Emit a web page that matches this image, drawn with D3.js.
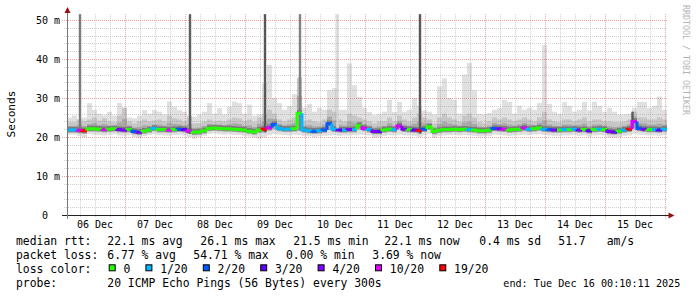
<!DOCTYPE html>
<html>
<head>
<meta charset="utf-8">
<script src="https://cdn.jsdelivr.net/npm/d3@7"></script>
<style>
  body { margin: 0; background: #fff; }
  text { font-family: "DejaVu Sans Mono", monospace; }
</style>
</head>
<body>
<div class="chart"></div>
<script>
// smokeping 10 天圖：每 2 小時一格，共 120 格
const median = [
  21.8, 21.8, 21.7, 21.6, 22.1, 22.1, 22.0, 21.9, 22.0, 22.1,
  21.9, 21.8, 21.9, 21.4, 21.2, 21.5, 21.8, 22.2, 21.9, 21.9,
  21.8, 21.9, 22.0, 21.9, 21.5, 21.2, 21.3, 21.6, 22.2, 22.3,
  22.2, 22.1, 22.1, 22.0, 21.9, 21.8, 21.5, 21.3, 21.8, 22.0,
  22.4, 23.2, 22.2, 22.0, 22.0, 22.1, 26.1, 21.8, 21.6, 21.5,
  21.6, 21.8, 23.4, 22.0, 21.8, 21.8, 21.9, 21.9, 22.9, 22.2,
  21.9, 21.4, 21.4, 21.8, 22.0, 21.9, 22.8, 22.0, 21.9, 21.8,
  21.7, 22.0, 22.6, 21.4, 21.7, 21.9, 21.9, 22.0, 21.9, 22.0,
  21.9, 21.8, 21.6, 21.6, 21.7, 22.2, 22.1, 22.0, 21.8, 21.9,
  22.0, 22.3, 22.0, 22.1, 22.3, 22.0, 21.9, 21.8, 21.8, 21.9,
  21.9, 22.0, 21.8, 21.9, 21.6, 21.9, 22.0, 21.9, 21.4, 21.3,
  21.5, 21.8, 22.0, 24.0, 22.2, 22.0, 21.9, 21.9, 21.8, 22.0
];
// 每格掉包數 (20 個 ping 中)
const loss = [
  1, 1, 10, 19, 0, 0, 0, 10, 0, 0,
  4, 4, 0, 2, 4, 0, 0, 1, 0, 0,
  10, 0, 2, 3, 10, 0, 0, 0, 0, 0,
  0, 0, 0, 0, 0, 0, 0, 0, 0, 19,
  10, 2, 1, 1, 1, 0, 0, 1, 1, 2,
  1, 2, 2, 1, 3, 1, 4, 1, 0, 10,
  1, 4, 3, 0, 0, 1, 10, 4, 0, 3,
  19, 2, 0, 0, 0, 0, 0, 0, 0, 0,
  1, 0, 0, 0, 0, 2, 4, 10, 0, 0,
  0, 10, 1, 0, 0, 1, 2, 4, 0, 1,
  0, 1, 4, 0, 3, 0, 1, 0, 4, 3,
  0, 1, 19, 10, 2, 4, 0, 1, 3, 1
];
// 煙霧：最大、偏高、偏低、最小 ping
const smokeMax = [
  25.0, 25.5, 24.5, 25.0, 28.7, 27.0, 26.0, 25.6, 26.5, 25.5,
  28.7, 27.5, 25.0, 24.8, 25.5, 26.9, 26.0, 26.9, 26.5, 25.8,
  29.1, 27.8, 26.9, 26.5, 25.5, 25.2, 25.8, 26.5, 28.7, 26.0,
  27.4, 25.8, 27.8, 29.1, 28.7, 26.0, 28.3, 25.5, 25.8, 33.8,
  38.5, 30.0, 28.7, 27.0, 28.0, 31.0, 35.4, 27.5, 28.5, 26.5,
  27.5, 27.0, 32.0, 32.5, 27.0, 27.0, 38.9, 33.3, 30.3, 27.5,
  26.4, 25.6, 26.0, 26.5, 29.5, 26.4, 29.0, 26.5, 27.0, 30.0,
  28.0, 26.8, 26.5, 25.8, 33.0, 35.0, 30.0, 29.5, 26.0, 36.0,
  39.0, 32.0, 26.0, 25.8, 26.2, 27.0, 27.5, 29.5, 29.0, 26.0,
  28.0, 27.0, 27.5, 27.0, 28.7, 43.6, 28.5, 26.5, 26.0, 28.9,
  28.0, 26.5, 27.0, 29.0, 26.8, 29.0, 28.0, 26.5, 27.5, 26.5,
  25.8, 25.8, 26.0, 27.5, 29.0, 29.0, 27.5, 28.0, 30.4, 27.0
];
const smokeHi = [
  23.8, 23.8, 24.5, 24.0, 24.5, 25.0, 24.2, 24.8, 24.0, 23.8,
  25.5, 27.5, 24.0, 23.5, 24.0, 24.5, 24.0, 24.2, 24.5, 24.0,
  25.5, 24.8, 24.5, 24.0, 25.0, 23.5, 23.5, 24.0, 24.5, 24.0,
  24.2, 24.0, 24.5, 25.0, 24.8, 24.0, 24.5, 23.8, 25.0, 26.0,
  27.0, 26.0, 24.5, 24.0, 24.5, 25.0, 35.0, 24.0, 24.5, 24.0,
  23.8, 24.5, 27.0, 26.5, 24.5, 24.0, 26.0, 25.5, 25.0, 24.5,
  24.0, 23.5, 24.0, 24.0, 25.0, 24.0, 25.5, 24.5, 24.0, 25.0,
  26.0, 25.0, 24.5, 23.5, 25.0, 26.0, 25.0, 24.5, 24.0, 25.5,
  26.0, 25.0, 23.8, 23.5, 24.0, 25.0, 24.5, 25.0, 24.5, 24.0,
  24.5, 25.0, 24.5, 24.0, 25.0, 26.5, 24.5, 24.0, 23.8, 24.5,
  24.5, 24.0, 24.5, 25.0, 24.0, 24.5, 24.5, 24.0, 24.0, 23.8,
  23.8, 24.0, 24.5, 26.5, 25.0, 25.0, 24.5, 24.5, 25.0, 24.5
];
const smokeLo = [
  21.1, 21.1, 21.0, 20.8, 21.4, 21.4, 21.3, 21.2, 21.3, 21.4,
  21.2, 21.1, 21.2, 20.7, 20.5, 20.8, 21.1, 21.5, 21.2, 21.2,
  21.1, 21.2, 21.3, 21.2, 20.8, 20.5, 20.6, 20.9, 21.5, 21.6,
  21.5, 21.4, 21.4, 21.3, 21.2, 21.1, 20.8, 20.6, 21.0, 21.2,
  21.6, 22.0, 21.5, 21.3, 21.3, 21.4, 21.6, 21.1, 20.9, 20.8,
  20.9, 21.1, 21.8, 21.3, 21.1, 21.1, 21.2, 21.2, 21.9, 21.5,
  21.2, 20.7, 20.7, 21.1, 21.3, 21.2, 21.9, 21.3, 21.2, 21.1,
  20.9, 21.3, 21.8, 20.7, 21.0, 21.2, 21.2, 21.3, 21.2, 21.3,
  21.2, 21.1, 20.9, 20.9, 21.0, 21.5, 21.4, 21.3, 21.1, 21.2,
  21.3, 21.5, 21.3, 21.4, 21.6, 21.3, 21.2, 21.1, 21.1, 21.2,
  21.2, 21.3, 21.1, 21.2, 20.9, 21.2, 21.3, 21.2, 20.7, 20.6,
  20.8, 21.1, 21.3, 22.2, 21.5, 21.3, 21.2, 21.2, 21.1, 21.3
];
const smokeMin = [
  20.6, 20.6, 20.2, 20.0, 20.8, 20.6, 20.5, 20.4, 20.6, 20.7,
  20.4, 20.3, 20.5, 20.0, 19.7, 20.2, 20.5, 20.7, 20.5, 20.4,
  20.3, 20.5, 20.6, 20.4, 20.0, 19.6, 20.0, 20.3, 20.8, 20.9,
  20.7, 20.6, 20.7, 20.5, 20.5, 20.3, 20.1, 19.9, 19.6, 19.9,
  20.5, 20.8, 20.6, 20.5, 20.4, 20.6, 20.5, 20.3, 20.2, 20.0,
  20.2, 20.3, 20.4, 20.5, 20.3, 20.4, 20.4, 20.5, 20.6, 20.5,
  20.4, 19.8, 19.9, 20.3, 20.5, 20.4, 20.6, 20.5, 20.4, 20.3,
  20.0, 20.4, 20.8, 19.8, 20.2, 20.4, 20.5, 20.5, 20.4, 20.5,
  20.4, 20.3, 20.1, 20.2, 20.2, 20.6, 20.5, 20.4, 20.3, 20.4,
  20.5, 20.6, 20.5, 20.6, 20.7, 20.5, 20.4, 20.3, 20.3, 20.4,
  20.4, 20.5, 20.3, 20.4, 20.1, 20.4, 20.5, 20.4, 19.9, 19.8,
  20.0, 20.3, 20.4, 20.8, 20.6, 20.5, 20.4, 20.4, 20.3, 20.5
];
// 單一離群 ping 的細長尖峰
const spikeTimes = ['2025-12-06T06:00Z', '2025-12-08T02:00Z', '2025-12-09T08:00Z',
  '2025-12-09T22:00Z', '2025-12-10T13:00Z', '2025-12-11T22:00Z', '2025-12-15T11:00Z'];
const spikeTop = [51.5, 51.5, 51.5, 51.5, 51.5, 51.5, 26.5];
const spikePings = [7, 3, 2, 8, 20, 2, 2];

const yTicks = [0, 10, 20, 30, 40, 50];
const lossLevels = [0, 1, 2, 3, 4, 10, 19];
const lossLabels = ['0', '1/20', '2/20', '3/20', '4/20', '10/20', '19/20'];
const lossColors = ['#26ff00', '#00b8ff', '#0059ff', '#5e00ff', '#7e00ff', '#dd00ff', '#ff0000'];
const rttStats = ['22.1 ms avg', '26.1 ms max', '21.5 ms min', '22.1 ms now', '0.4 ms sd', '51.7', 'am/s'];
const lossStats = ['6.77 % avg', '54.71 % max', '0.00 % min', '3.69 % now'];
const probeText = '20 ICMP Echo Pings (56 Bytes) every 300s';
const endText = 'end: Tue Dec 16 00:10:11 2025';

const svg = d3.select('.chart').append('svg')
  .attr('width', 697)
  .attr('height', 297);

const t0 = new Date(Date.UTC(2025, 11, 6, 0, 48));
const t1 = new Date(Date.UTC(2025, 11, 16, 0, 48));
const x = d3.scaleUtc().domain([t0, t1]).range([67, 667]);
const y = d3.scaleLinear().domain([0, 50]).range([215, 20]);
const yMax = 51.5;
const binStart = median.map((d, i) => d3.utcHour.offset(t0, 2 * i));
const binEnd = median.map((d, i) => d3.utcHour.offset(t0, 2 * i + 2));
const lossColor = d3.scaleThreshold().domain(lossLevels.slice(1)).range(lossColors);

// 煙霧 (由淺到深疊上去)
const smoke = svg.append('g');
const band = (lo, hi, fill) => {
  smoke.selectAll(null).data(median).enter().append('rect')
    .attr('x', (d, i) => x(binStart[i]))
    .attr('width', (d, i) => x(binEnd[i]) - x(binStart[i]))
    .attr('y', (d, i) => y(hi(i)))
    .attr('height', (d, i) => y(lo(i)) - y(hi(i)))
    .attr('fill', fill);
};
band(i => smokeMin[i], i => smokeMax[i], '#e0e0e0');
band(i => smokeLo[i], i => smokeHi[i], '#c6c6c6');
band(i => smokeLo[i], i => (median[i] + smokeHi[i]) / 2, '#a8a8a8');
band(i => median[i] - 0.5, i => median[i] + 0.8, '#7c7c7c');

const shade = d3.scaleLinear().domain([1, 20]).range(['#505050', '#d4d4d4']);
smoke.selectAll('.spike').data(spikeTimes).enter().append('rect')
  .attr('x', d => x(new Date(d)) - 1.2)
  .attr('width', 2.4)
  .attr('y', (d, i) => y(spikeTop[i]))
  .attr('height', (d, i) => {
    const b = Math.floor((new Date(d) - t0) / 7200000);
    return y(smokeLo[b]) - y(spikeTop[i]);
  })
  .attr('fill', (d, i) => shade(spikePings[i]));

// 格線
const grid = svg.append('g').attr('stroke-dasharray', '1,1').attr('stroke-width', 1);
const px = v => Math.round(v) + 0.5;
const days = d3.utcDay.range(d3.utcDay.ceil(t0), d3.utcHour.offset(t1, 1));
const noons = d3.utcDay.range(d3.utcDay.floor(t0), d3.utcDay.floor(t1))
  .map(d => d3.utcHour.offset(d, 12));
const sixHours = d3.utcHour.every(6).range(t0, t1).filter(d => d.getUTCHours() !== 0);
grid.selectAll(null).data(sixHours).enter().append('line')
  .attr('x1', d => px(x(d))).attr('x2', d => px(x(d)))
  .attr('y1', y(yMax)).attr('y2', 218)
  .attr('stroke', 'rgba(140,140,140,0.4)');
grid.selectAll(null).data(d3.range(2, yMax, 2).filter(v => v % 10)).enter().append('line')
  .attr('x1', 64).attr('x2', 668)
  .attr('y1', d => px(y(d))).attr('y2', d => px(y(d)))
  .attr('stroke', 'rgba(140,140,140,0.4)');
grid.selectAll(null).data(days).enter().append('line')
  .attr('x1', d => px(x(d))).attr('x2', d => px(x(d)))
  .attr('y1', y(yMax)).attr('y2', 219)
  .attr('stroke', 'rgba(215,70,70,0.5)');
grid.selectAll(null).data(yTicks.slice(1)).enter().append('line')
  .attr('x1', 62).attr('x2', 668)
  .attr('y1', d => px(y(d))).attr('y2', d => px(y(d)))
  .attr('stroke', 'rgba(215,70,70,0.5)');

// 中位數線，顏色依掉包率
svg.append('g').selectAll('path').data(median).enter().append('path')
  .attr('d', (d, i) => {
    const x0 = x(binStart[i]), x1 = x(binEnd[i]);
    const yPrev = i > 0 ? y(median[i - 1]) : y(d);
    return `M${x0},${yPrev}V${y(d)}H${x1}`;
  })
  .attr('fill', 'none')
  .attr('stroke', (d, i) => lossColor(loss[i]))
  .attr('stroke-width', 3);

// 座標軸
svg.append('line').attr('x1', 62).attr('x2', 669).attr('y1', 215.5).attr('y2', 215.5)
  .attr('stroke', '#222');
svg.append('line').attr('x1', 67.5).attr('x2', 67.5).attr('y1', 219).attr('y2', 12)
  .attr('stroke', '#777');
svg.append('path').attr('d', 'M64.5,13L70.5,13L67.5,7Z').attr('fill', '#9a1010');
svg.append('path').attr('d', 'M668.5,212.5L668.5,218.5L674.5,215.5Z').attr('fill', '#9a1010');

svg.append('g').selectAll('text').data(yTicks).enter().append('text')
  .text(d => d === 0 ? '0' : d + ' m')
  .attr('x', d => d === 0 ? 48 : 60)
  .attr('y', d => y(d) + 3.5)
  .attr('text-anchor', 'end')
  .attr('font-size', 10);

svg.append('g').selectAll('text').data(noons).enter().append('text')
  .text(d => d3.utcFormat('%d %b')(d))
  .attr('x', d => x(d))
  .attr('y', 227.5)
  .attr('text-anchor', 'middle')
  .attr('font-size', 10);

svg.append('text').text('Seconds')
  .attr('transform', 'translate(15,114) rotate(-90)')
  .attr('text-anchor', 'middle')
  .attr('font-size', 11.2);

svg.append('text').text('RRDTOOL / TOBI OETIKER')
  .attr('transform', 'translate(683,5) rotate(90)')
  .attr('font-size', 8.3)
  .attr('fill', '#b4b4b4');

// 圖例
const legend = svg.append('g').attr('font-size', 11.4).attr('fill', '#000');
const put = (s, lx, ly) => legend.append('text').text(s).attr('x', lx).attr('y', ly)
  .attr('xml:space', 'preserve');
put('median rtt:', 16, 244.5);
[107.3, 200.3, 293.3, 384.3, 479.3, 558.3, 606.7].forEach((lx, i) => put(rttStats[i], lx, 244.5));
put('packet loss:', 16, 258.5);
[107.3, 193.3, 286, 372.3].forEach((lx, i) => put(lossStats[i], lx, 258.5));
put('loss color:', 16, 272.5);
let sx = 109.2;
lossLabels.forEach((lab, i) => {
  legend.append('rect').attr('x', sx).attr('y', 264.8).attr('width', 6).attr('height', 6)
    .attr('fill', lossColors[i]).attr('stroke', '#000').attr('stroke-width', 1);
  put(lab, sx + 14.3, 272.5);
  sx += 14.5 + lab.length * 6.9 + 15.3;
});
put('probe:', 16, 286.5);
put(probeText, 107.3, 286.5);
put(endText, 503.3, 286.5)
  .attr('font-size', 10.6)
  .attr('textLength', 177)
  .attr('lengthAdjust', 'spacingAndGlyphs');
</script>
</body>
</html>
